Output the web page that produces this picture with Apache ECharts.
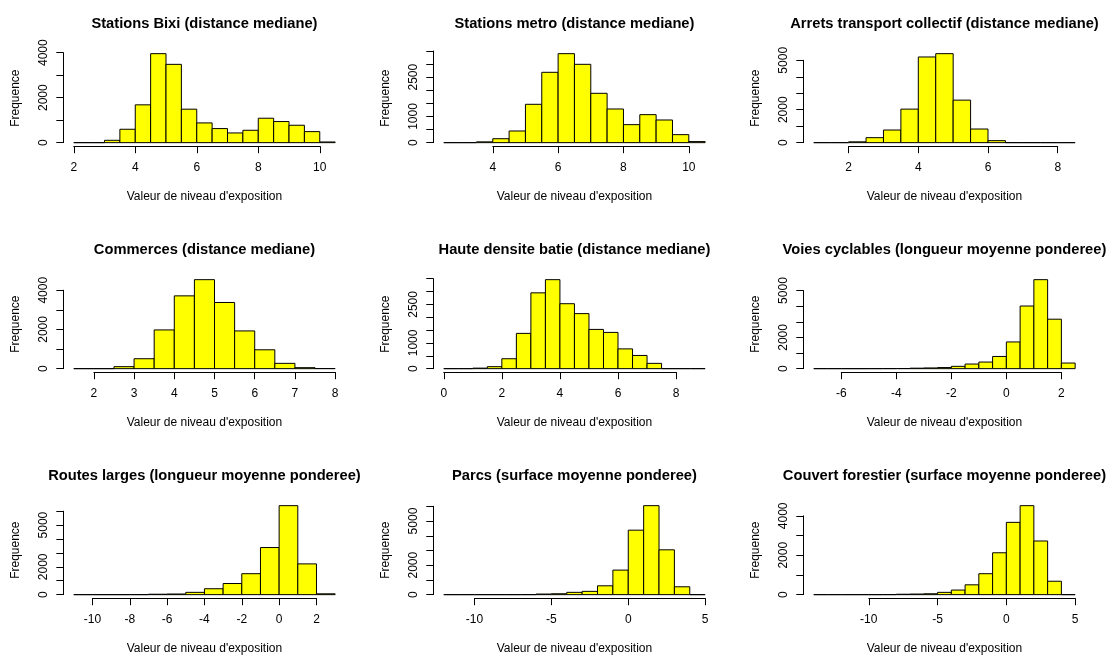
<!DOCTYPE html>
<html><head><meta charset="utf-8">
<script src="https://cdn.jsdelivr.net/npm/echarts@6/dist/echarts.min.js"></script>
<style>html,body{margin:0;padding:0;background:#fff}#c{width:1110px;height:656px}</style>
</head><body><div id="c"></div><script>
// ---------- data ----------
const titles = [
  "Stations Bixi (distance mediane)",
  "Stations metro (distance mediane)",
  "Arrets transport collectif (distance mediane)",
  "Commerces (distance mediane)",
  "Haute densite batie (distance mediane)",
  "Voies cyclables (longueur moyenne ponderee)",
  "Routes larges (longueur moyenne ponderee)",
  "Parcs (surface moyenne ponderee)",
  "Couvert forestier (surface moyenne ponderee)"
];
const xLabel = "Valeur de niveau d'exposition";
const yLabel = "Frequence";

const bixiBreaks = [2,2.5,3,3.5,4,4.5,5,5.5,6,6.5,7,7.5,8,8.5,9,9.5,10,10.5];
const bixiCounts = [0,0,104,595,1680,3955,3480,1487,877,625,431,550,1085,937,773,490,30];
const bixiXTicks = [2,4,6,8,10];
const bixiYTicks = [0,1000,2000,3000,4000];
const bixiYLabels = [0,2000,4000];

const metroBreaks = [2.5,3,3.5,4,4.5,5,5.5,6,6.5,7,7.5,8,8.5,9,9.5,10,10.5];
const metroCounts = [0,0,30,150,445,1464,2686,3398,2991,1884,1285,687,1069,865,305,40];
const metroXTicks = [4,6,8,10];
const metroYTicks = [0,500,1000,1500,2000,2500,3000,3500];
const metroYLabels = [0,1000,2500];

const arretsBreaks = [1,1.5,2,2.5,3,3.5,4,4.5,5,5.5,6,6.5,7,7.5,8,8.5];
const arretsCounts = [0,0,50,302,766,2036,5202,5403,2581,827,121,0,0,0,0];
const arretsXTicks = [2,4,6,8];
const arretsYTicks = [0,1000,2000,3000,4000,5000];
const arretsYLabels = [0,2000,5000];

const commBreaks = [1.5,2,2.5,3,3.5,4,4.5,5,5.5,6,6.5,7,7.5,8];
const commCounts = [0,0,101,506,1975,3713,4540,3376,1924,962,270,50,5];
const commXTicks = [2,3,4,5,6,7,8];
const commYTicks = [0,1000,2000,3000,4000];
const commYLabels = [0,2000,4000];

const densBreaks = [0,0.5,1,1.5,2,2.5,3,3.5,4,4.5,5,5.5,6,6.5,7,7.5,8,8.5,9];
const densCounts = [0,0,20,77,385,1372,2949,3462,2526,2141,1526,1410,769,513,205,0,0,0];
const densXTicks = [0,2,4,6,8];
const densYTicks = [0,500,1000,1500,2000,2500,3000,3500];
const densYLabels = [0,1000,2500];

const cyclBreaks = [-7,-6.5,-6,-5.5,-5,-4.5,-4,-3.5,-3,-2.5,-2,-1.5,-1,-0.5,0,0.5,1,1.5,2,2.5];
const cyclCounts = [0,0,0,0,2,4,8,30,45,70,148,295,422,780,1709,4008,5696,3165,359];
const cyclXTicks = [-6,-4,-2,0,2];
const cyclYTicks = [0,1000,2000,3000,4000,5000];
const cyclYLabels = [0,2000,5000];

const routesBreaks = [-11,-10,-9,-8,-7,-6,-5,-4,-3,-2,-1,0,1,2,3];
const routesCounts = [0,0,0,2,30,45,165,424,800,1506,3388,6400,2212,60];
const routesXTicks = [-10,-8,-6,-4,-2,0,2];
const routesYTicks = [0,1000,2000,3000,4000,5000,6000];
const routesYLabels = [0,2000,5000];

const parcsBreaks = [-12,-11,-10,-9,-8,-7,-6,-5,-4,-3,-2,-1,0,1,2,3,4,5];
const parcsCounts = [0,0,0,0,0,2,40,60,155,222,600,1667,4378,6044,3044,533,0];
const parcsXTicks = [-10,-5,0,5];
const parcsYTicks = [0,1000,2000,3000,4000,5000,6000];
const parcsYLabels = [0,2000,5000];

const forestBreaks = [-14,-13,-12,-11,-10,-9,-8,-7,-6,-5,-4,-3,-2,-1,0,1,2,3,4,5];
const forestCounts = [0,0,0,0,0,2,20,30,45,116,232,498,1062,2124,3668,4515,2722,680,0];
const forestXTicks = [-10,-5,0,5];
const forestYTicks = [0,1000,2000,3000,4000];
const forestYLabels = [0,2000,4000];

// ---------- layout ----------
const FONT = "'Liberation Sans', Arial, sans-serif";
const COL_W = 370, ROW_H = 226;
const PLOT_LEFT = 63.3, PLOT_TOP = 50.1, PLOT_W = 282.3, PLOT_H = 96.1;

const panels = [
  [bixiBreaks, bixiCounts, bixiXTicks, bixiYTicks, bixiYLabels],
  [metroBreaks, metroCounts, metroXTicks, metroYTicks, metroYLabels],
  [arretsBreaks, arretsCounts, arretsXTicks, arretsYTicks, arretsYLabels],
  [commBreaks, commCounts, commXTicks, commYTicks, commYLabels],
  [densBreaks, densCounts, densXTicks, densYTicks, densYLabels],
  [cyclBreaks, cyclCounts, cyclXTicks, cyclYTicks, cyclYLabels],
  [routesBreaks, routesCounts, routesXTicks, routesYTicks, routesYLabels],
  [parcsBreaks, parcsCounts, parcsXTicks, parcsYTicks, parcsYLabels],
  [forestBreaks, forestCounts, forestXTicks, forestYTicks, forestYLabels]
];

const grid = [], xAxis = [], yAxis = [], series = [], title = [];
const lineStyle = {color: '#000', width: 1};

panels.forEach((p, i) => {
  const [breaks, counts, xT, yT, yL] = p;
  const r = Math.floor(i / 3), c = i % 3;
  const L = c * COL_W + PLOT_LEFT, T = r * ROW_H + PLOT_TOP;
  const b0 = breaks[0], bN = breaks[breaks.length - 1];
  const dx = 0.04 * (bN - b0);
  const u0 = b0 - dx, u1 = bN + dx;
  const ymax = Math.max(...counts);
  const yu0 = -0.04 * ymax, yu1 = 1.04 * ymax;
  const xt0 = xT[0], xt1 = xT[xT.length - 1];
  const yt1 = yT[yT.length - 1];

  // grid A : plot region (data)
  grid.push({left: L, top: T, width: PLOT_W, height: PLOT_H});
  // grid B : tick range (axes)
  const bl = L + (xt0 - u0) / (u1 - u0) * PLOT_W;
  const bw = (xt1 - xt0) / (u1 - u0) * PLOT_W;
  const bt = T + (yu1 - yt1) / (yu1 - yu0) * PLOT_H;
  const bh = (yt1 - 0) / (yu1 - yu0) * PLOT_H;
  grid.push({left: bl, top: bt, width: bw, height: bh});

  const gA = 2 * i, gB = 2 * i + 1;
  xAxis.push({
    type: 'value', gridIndex: gA, min: u0, max: u1,
    axisLine: {show: false, onZero: false}, axisTick: {show: false}, axisLabel: {show: false}, splitLine: {show: false},
    name: xLabel, nameLocation: 'middle', nameGap: 44,
    nameTextStyle: {fontSize: 12, color: '#000', fontFamily: FONT}
  });
  xAxis.push({
    type: 'value', gridIndex: gB, min: xt0, max: xt1, interval: xT[1] - xT[0],
    offset: (0 - yu0) / (yu1 - yu0) * PLOT_H,
    axisLine: {show: true, onZero: false, lineStyle}, axisTick: {show: true, length: 7, lineStyle},
    axisLabel: {fontSize: 12, color: '#000', fontFamily: FONT, margin: 15.5, showMinLabel: true, showMaxLabel: true},
    splitLine: {show: false}
  });
  yAxis.push({
    type: 'value', gridIndex: gA, min: yu0, max: yu1,
    axisLine: {show: false, onZero: false}, axisTick: {show: false}, axisLabel: {show: false}, splitLine: {show: false},
    name: yLabel, nameLocation: 'middle', nameGap: 41.6,
    nameTextStyle: {fontSize: 12, color: '#000', fontFamily: FONT}
  });
  yAxis.push({
    type: 'value', gridIndex: gB, min: 0, max: yt1, interval: yT[1] - yT[0],
    offset: (xt0 - u0) / (u1 - u0) * PLOT_W,
    axisLine: {show: true, onZero: false, lineStyle}, axisTick: {show: true, length: 7, lineStyle},
    axisLabel: {fontSize: 12, color: '#000', fontFamily: FONT, margin: 14, rotate: 90,
      showMinLabel: true, showMaxLabel: true,
      formatter: v => (yL.indexOf(v) >= 0 ? String(v) : '')},
    splitLine: {show: false}
  });

  series.push({
    type: 'custom', xAxisIndex: gA, yAxisIndex: gA, silent: true, clip: false,
    encode: {x: [0, 1], y: 2},
    data: counts.map((v, j) => [breaks[j], breaks[j + 1], v]),
    renderItem: (params, api) => {
      const p0 = api.coord([api.value(0), 0]);
      const p1 = api.coord([api.value(1), api.value(2)]);
      return {
        type: 'rect',
        shape: {x: p0[0], y: p1[1], width: p1[0] - p0[0], height: p0[1] - p1[1]},
        style: {fill: '#ffff00', stroke: '#000', lineWidth: 1}
      };
    }
  });

  title.push({
    text: titles[i], left: L + PLOT_W / 2, top: r * ROW_H + 16.5, textAlign: 'center', padding: 0,
    textStyle: {fontSize: 14.7, fontWeight: 'bold', color: '#000', fontFamily: FONT}
  });
});

const chart = echarts.init(document.getElementById('c'), null, {renderer: 'canvas'});
chart.setOption({animation: false, backgroundColor: '#fff', title, grid, xAxis, yAxis, series});
</script></body></html>
